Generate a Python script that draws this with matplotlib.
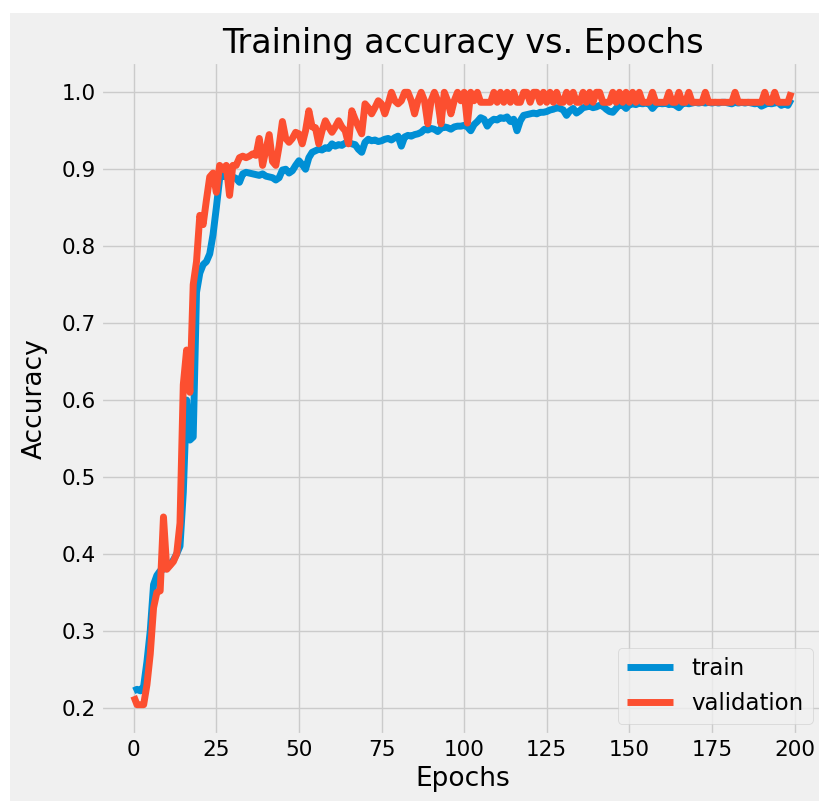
import matplotlib
matplotlib.use('Agg')
import matplotlib.pyplot as plt
from matplotlib.patches import Rectangle

plt.style.use('fivethirtyeight')

# accuracy per epoch
train_acc = [
    0.222, 0.224, 0.222, 0.228, 0.26, 0.30, 0.36, 0.372, 0.378, 0.38,
    0.382, 0.386, 0.392, 0.40, 0.41, 0.48, 0.60, 0.548, 0.552, 0.74,
    0.765, 0.776, 0.78, 0.79, 0.815, 0.85, 0.888, 0.892, 0.89, 0.891,
    0.89, 0.888, 0.883, 0.894, 0.896, 0.895, 0.894, 0.893, 0.892, 0.894,
    0.891, 0.89, 0.889, 0.886, 0.889, 0.899, 0.9, 0.895, 0.898, 0.905,
    0.911, 0.906, 0.9, 0.915, 0.922, 0.924, 0.926, 0.925, 0.928, 0.927,
    0.933, 0.93, 0.932, 0.931, 0.934, 0.935, 0.933, 0.932, 0.926, 0.922,
    0.935, 0.939, 0.937, 0.938, 0.936, 0.937, 0.939, 0.94, 0.938, 0.941,
    0.943, 0.93, 0.942, 0.944, 0.943, 0.945, 0.946, 0.948, 0.952, 0.951,
    0.953, 0.952, 0.949, 0.953, 0.955, 0.954, 0.952, 0.955, 0.956, 0.956,
    0.957, 0.955, 0.95, 0.958, 0.962, 0.967, 0.965, 0.956, 0.962, 0.965,
    0.964, 0.967, 0.966, 0.968, 0.962, 0.965, 0.95, 0.963, 0.97, 0.971,
    0.972, 0.973, 0.972, 0.974, 0.974, 0.975, 0.977, 0.978, 0.98, 0.979,
    0.977, 0.97, 0.976, 0.979, 0.973, 0.976, 0.98, 0.981, 0.982, 0.98,
    0.981, 0.983, 0.982, 0.978, 0.975, 0.974, 0.979, 0.984, 0.983, 0.979,
    0.984, 0.985, 0.984, 0.986, 0.985, 0.986, 0.985, 0.979, 0.984, 0.986,
    0.985, 0.986, 0.984, 0.985, 0.983, 0.98, 0.985, 0.986, 0.985, 0.986,
    0.987, 0.986, 0.987, 0.986, 0.987, 0.986, 0.987, 0.986, 0.987, 0.987,
    0.986, 0.985, 0.987, 0.986, 0.987, 0.986, 0.987, 0.986, 0.985, 0.986,
    0.982, 0.984, 0.986, 0.985, 0.986, 0.987, 0.983, 0.985, 0.983, 0.991,
]

val_acc = [
    0.215, 0.204, 0.204, 0.204, 0.23, 0.27, 0.33, 0.35, 0.352, 0.448,
    0.38, 0.385, 0.39, 0.40, 0.44, 0.62, 0.665, 0.61, 0.75, 0.78,
    0.84, 0.828, 0.86, 0.89, 0.895, 0.87, 0.905, 0.90, 0.905, 0.866,
    0.905, 0.905, 0.915, 0.917, 0.915, 0.917, 0.92, 0.918, 0.94, 0.905,
    0.925, 0.945, 0.91, 0.905, 0.93, 0.962, 0.94, 0.935, 0.94, 0.948,
    0.946, 0.933, 0.95, 0.976, 0.955, 0.954, 0.933, 0.95, 0.963, 0.955,
    0.948, 0.955, 0.963, 0.955, 0.95, 0.933, 0.976, 0.965, 0.955, 0.946,
    0.985, 0.98, 0.972, 0.98, 0.989, 0.985, 0.972, 0.985, 1.0, 0.989,
    0.985, 0.989, 1.0, 1.0, 0.989, 0.972, 0.989, 1.0, 0.989, 0.959,
    0.989, 1.0, 0.989, 0.959, 1.0, 0.989, 0.972, 0.989, 1.0, 0.989,
    1.0, 0.96, 1.0, 0.989, 1.0, 0.987, 0.987, 0.987, 0.987, 1.0,
    0.987, 1.0, 0.987, 1.0, 0.987, 1.0, 0.987, 0.987, 1.0, 1.0,
    0.987, 1.0, 1.0, 0.987, 1.0, 0.987, 1.0, 0.987, 1.0, 0.987,
    0.987, 1.0, 0.987, 1.0, 0.987, 0.987, 1.0, 0.987, 1.0, 0.987,
    1.0, 1.0, 0.987, 0.987, 0.987, 1.0, 0.987, 1.0, 0.987, 1.0,
    0.987, 1.0, 0.987, 1.0, 0.987, 0.987, 0.987, 1.0, 0.987, 0.987,
    0.987, 0.987, 1.0, 0.987, 0.987, 1.0, 0.987, 0.987, 1.0, 0.987,
    0.987, 0.987, 0.987, 1.0, 0.987, 0.987, 0.987, 0.987, 0.987, 0.987,
    0.987, 0.987, 1.0, 0.987, 0.987, 0.987, 0.987, 0.987, 0.987, 0.987,
    0.987, 1.0, 0.987, 0.987, 1.0, 0.987, 0.987, 0.987, 0.987, 1.0,
]

fig = plt.figure(figsize=(8.2, 8.01), dpi=100, facecolor='white')
# grey canvas with a thin white strip on the top and left, as in the screenshot
fig.patches.append(Rectangle((10 / 820, 0), 1, 1 - 13 / 801, transform=fig.transFigure,
                             facecolor='#f0f0f0', edgecolor='none', zorder=-1))

ax = fig.add_axes([0.123, 0.082, 0.882, 0.841])

ax.plot(train_acc, label='train', linewidth=5)
ax.plot(val_acc, label='validation', linewidth=5)

ax.set_title('Training accuracy vs. Epochs', fontsize=24)
ax.set_xlabel('Epochs', fontsize=19)
ax.set_ylabel('Accuracy', fontsize=19, labelpad=10)
ax.tick_params(labelsize=15.5)
ax.legend(loc='lower right', fontsize=16.5)

fig.savefig('out.png', dpi=100, facecolor=fig.get_facecolor())
